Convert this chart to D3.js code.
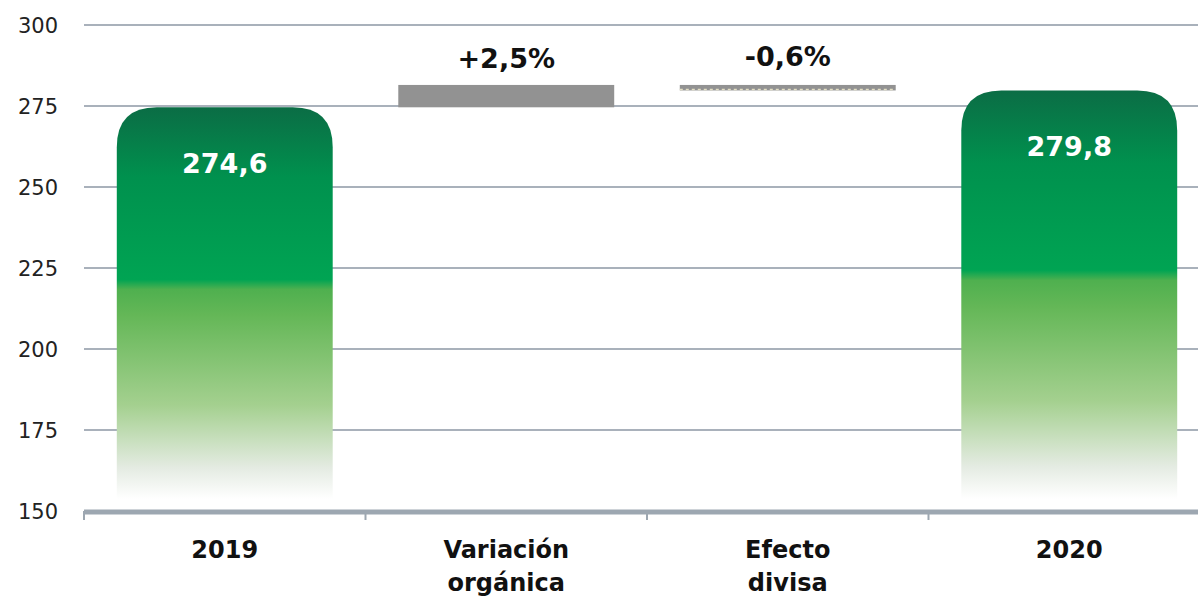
<!DOCTYPE html>
<html>
<head>
<meta charset="utf-8">
<script src="https://cdn.jsdelivr.net/npm/d3@7"></script>
<style>
  body { margin: 0; background: #fff; }
  svg { display: block; font-family: "DejaVu Sans", sans-serif; }
</style>
</head>
<body>
<div id="chart"></div>
<script>
// categories and values of the waterfall
var categories = ["2019", "Variación orgánica", "Efecto divisa", "2020"];
var catLines = [["2019"], ["Variación", "orgánica"], ["Efecto", "divisa"], ["2020"]];
var kinds = ["total", "delta", "delta", "total"];
var values = [274.6, 6.9, -1.7, 279.8];
var valueLabels = ["274,6", "+2,5%", "-0,6%", "279,8"];
var yTicks = [150, 175, 200, 225, 250, 275, 300];

var width = 1198, height = 603;
var left = 84, axisBase = 150;

var svg = d3.select("#chart").append("svg")
  .attr("width", width)
  .attr("height", height);

var y = d3.scaleLinear().domain([150, 300]).range([511, 25]);

var x = d3.scaleBand()
  .domain(categories)
  .range([left, left + 4 * 281.5])
  .paddingInner(0.233)
  .paddingOuter(0.1165);

// gradient for the total bars
var grad = svg.append("defs").append("linearGradient")
  .attr("id", "greenGrad")
  .attr("x1", 0).attr("y1", 0).attr("x2", 0).attr("y2", 1);
[
  [0, "#0b6d45"], [0.18, "#00914e"], [0.44, "#00a453"], [0.465, "#4fb04f"],
  [0.53, "#64b757"], [0.76, "#a4d08f"], [0.92, "#e4ebe2"], [1, "#ffffff"]
].forEach(function(s){
  grad.append("stop").attr("offset", s[0]).attr("stop-color", s[1]);
});

// gridlines
svg.append("g").selectAll("line")
  .data(yTicks.filter(d => d > 150))
  .enter().append("line")
  .attr("x1", left).attr("x2", width)
  .attr("y1", d => y(d)).attr("y2", d => y(d))
  .style("stroke", "#a9b1bb")
  .style("stroke-width", 2);

// tick labels
svg.append("g").selectAll("text")
  .data(yTicks)
  .enter().append("text")
  .attr("x", 58)
  .attr("y", d => y(d) + 8)
  .attr("text-anchor", "end")
  .style("font-size", "21px")
  .style("fill", "#222")
  .text(d => d);

// waterfall running totals
var bars = [];
var running = 0;
values.forEach(function(v, i){
  if (kinds[i] == "total") {
    bars.push({cat: categories[i], lo: axisBase, hi: v, kind: "total", label: valueLabels[i], lines: catLines[i]});
    running = v;
  } else {
    var start = running;
    running = running + v;
    bars.push({cat: categories[i], lo: Math.min(start, running), hi: Math.max(start, running), kind: v < 0 ? "neg" : "pos", label: valueLabels[i], lines: catLines[i]});
  }
});

function roundTop(x0, w, top, bottom, r){
  return "M" + x0 + "," + bottom +
    "L" + x0 + "," + (top + r) +
    "Q" + x0 + "," + top + " " + (x0 + r) + "," + top +
    "L" + (x0 + w - r) + "," + top +
    "Q" + (x0 + w) + "," + top + " " + (x0 + w) + "," + (top + r) +
    "L" + (x0 + w) + "," + bottom + "Z";
}

var bw = x.bandwidth();

bars.forEach(function(b){
  var x0 = x(b.cat);
  if (b.kind == "total") {
    svg.append("path")
      .attr("d", roundTop(x0, bw, y(b.hi), y(axisBase) - 12, 40))
      .style("fill", "url(#greenGrad)");
    svg.append("text")
      .attr("x", x0 + bw / 2)
      .attr("y", y(b.hi) + 66)
      .attr("text-anchor", "middle")
      .style("font-size", "27px")
      .style("font-weight", "bold")
      .style("fill", "#fff")
      .text(b.label);
  } else {
    svg.append("rect")
      .attr("x", x0).attr("width", bw)
      .attr("y", y(b.hi))
      .attr("height", y(b.lo) - y(b.hi))
      .style("fill", "#929292");
    if (b.kind == "neg") {
      svg.append("line")
        .attr("x1", x0).attr("x2", x0 + bw)
        .attr("y1", y(b.lo) - 1).attr("y2", y(b.lo) - 1)
        .style("stroke", "#e4dfc4")
        .style("stroke-width", 1.5)
        .style("stroke-dasharray", "3,3");
    }
    svg.append("text")
      .attr("x", x0 + bw / 2)
      .attr("y", y(b.hi) - (b.kind == "neg" ? 19 : 17))
      .attr("text-anchor", "middle")
      .style("font-size", "27px")
      .style("font-weight", "bold")
      .style("fill", "#111")
      .text(b.label);
  }

  // category labels
  svg.append("text")
    .attr("x", x0 + bw / 2)
    .attr("y", 558)
    .attr("text-anchor", "middle")
    .style("font-size", "24px")
    .style("font-weight", "bold")
    .style("fill", "#111")
    .selectAll("tspan")
    .data(b.lines)
    .enter().append("tspan")
    .attr("x", x0 + bw / 2)
    .attr("dy", (d, i) => i == 0 ? 0 : 33)
    .text(d => d);
});

// x axis line and ticks
svg.append("line")
  .attr("x1", left).attr("x2", width)
  .attr("y1", y(axisBase) + 1).attr("y2", y(axisBase) + 1)
  .style("stroke", "#9da7b1")
  .style("stroke-width", 5);

var step = x.step();
svg.append("g").selectAll("line")
  .data(d3.range(4))
  .enter().append("line")
  .attr("x1", d => left + d * step).attr("x2", d => left + d * step)
  .attr("y1", y(axisBase)).attr("y2", y(axisBase) + 9)
  .style("stroke", "#9da7b1")
  .style("stroke-width", 2);
</script>
</body>
</html>
